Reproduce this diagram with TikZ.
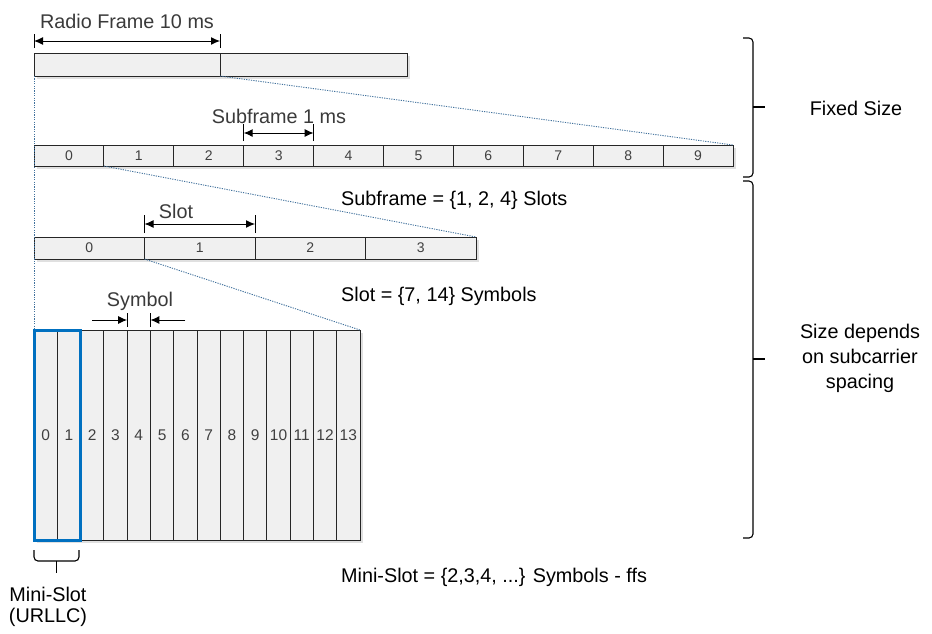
\documentclass[tikz,border=0pt]{standalone}
\usepackage{fontspec}
\setmainfont{Liberation Sans}
\usetikzlibrary{arrows.meta,calc}
\definecolor{cellfill}{HTML}{F0F0F0}
\definecolor{cellline}{HTML}{262626}
\definecolor{numgray}{HTML}{404040}
\definecolor{dimgray}{HTML}{3A3A3A}
\definecolor{dotblue}{HTML}{41719C}
\definecolor{miniblue}{HTML}{0070C0}
\begin{document}
\begin{tikzpicture}[x=1pt,y=-1pt,
  cell/.style={draw=cellline, fill=cellfill, line width=1pt, inner sep=0pt, outer sep=0pt,
    text=numgray, font=\fontsize{14}{16}\selectfont},
  symcell/.style={cell, font=\fontsize{15.5}{18}\selectfont},
  lbl/.style={font=\fontsize{19.8}{24}\selectfont, text=black, inner sep=0pt},
  dimlbl/.style={lbl, text=dimgray},
  dotl/.style={draw=dotblue, line width=0.9pt, dash pattern=on 1.2pt off 1.2pt},
  dimline/.style={line width=1pt, {Latex[length=9pt,width=8pt]}-{Latex[length=9pt,width=8pt]}},
  oneside/.style={line width=1pt, -{Latex[length=9pt,width=8pt]}},
  tickl/.style={line width=0.8pt},
  shad/.style={fill=black, opacity=0.12},
  brline/.style={line width=1.1pt, rounded corners=4pt}]
\useasboundingbox (0,0) rectangle (932,633);

% shadows
\fill[shad] (36.5,55.5) rectangle (409.5,78.5);
\fill[shad] (36.5,147.5) rectangle (735.5,168.5);
\fill[shad] (36.5,239.5) rectangle (478.5,261.5);
\fill[shad] (36.5,332.5) rectangle (362.5,542.5);

% radio frame
\node[cell, minimum width=186pt, minimum height=23pt] (rf0) at (127,64.5) {};
\node[cell, minimum width=187pt, minimum height=23pt] (rf1) at (313.5,64.5) {};

% subframes
\foreach \i in {0,...,9}
  \node[cell, minimum width=69.9pt, minimum height=21pt] (sf\i) at ({34+69.9*(\i+0.5)},155.5) {\i};

% slots
\foreach \i in {0,...,3}
  \node[cell, minimum width=110.5pt, minimum height=22pt] (sl\i) at ({34+110.5*(\i+0.5)},248) {\i};

% symbols
\foreach \i in {0,...,13}
  \node[symcell, minimum width=23.2857pt, minimum height=210pt] (sy\i) at ({34+23.2857*(\i+0.5)},435) {\i};

% mini-slot highlight
\draw[miniblue, line width=3pt] (sy0.north west) rectangle (sy1.south east);

% dotted zoom lines
\draw[dotl] (rf0.south west) -- (sy0.north west);
\draw[dotl] (rf0.south east) -- (sf9.north east);
\draw[dotl] (sf1.south west) -- (sl3.north east);
\draw[dotl] (sl1.south west) -- (sy13.north east);

% radio frame dimension
\draw[tickl] ($(rf0.north west)+(0,-5)$) -- ($(rf0.north west)+(0,-19)$);
\draw[tickl] ($(rf0.north east)+(0,-5)$) -- ($(rf0.north east)+(0,-19)$);
\draw[dimline] ($(rf0.north west)+(0,-12)$) -- ($(rf0.north east)+(0,-12)$);
\node[dimlbl] (rflbl) at (127,21) {Radio Frame 10 ms};

% subframe dimension
\draw[tickl] ($(sf3.north west)+(0,-4)$) -- ($(sf3.north west)+(0,-21)$);
\draw[tickl] ($(sf3.north east)+(0,-4)$) -- ($(sf3.north east)+(0,-21)$);
\draw[dimline] ($(sf3.north west)+(0,-12)$) -- ($(sf3.north east)+(0,-12)$);
\node[dimlbl] (sflbl) at (279,116) {Subframe 1 ms};

% slot dimension
\draw[tickl] ($(sl1.north west)+(0,-4)$) -- ($(sl1.north west)+(0,-22)$);
\draw[tickl] ($(sl1.north east)+(0,-4)$) -- ($(sl1.north east)+(0,-22)$);
\draw[dimline] ($(sl1.north west)+(0,-13)$) -- ($(sl1.north east)+(0,-13)$);
\node[dimlbl] (sllbl) at (176,211) {Slot};

% symbol dimension
\coordinate (syA) at ($(sy4.north west)+(0,-10)$);
\coordinate (syB) at ($(sy4.north east)+(0,-10)$);
\draw[tickl] ($(sy4.north west)+(0,-3)$) -- ($(sy4.north west)+(0,-17)$);
\draw[tickl] ($(sy4.north east)+(0,-3)$) -- ($(sy4.north east)+(0,-17)$);
\draw[oneside] ($(syA)+(-35,0)$) -- (syA);
\draw[oneside] ($(syB)+(35,0)$) -- (syB);
\node[dimlbl] (sylbl) at (140,301) {Symbol};

% descriptions
\node[lbl, anchor=west] (d1) at (341,200) {Subframe = \{1, 2, 4\} Slots};
\node[lbl, anchor=west] (d2) at (341,296) {Slot = \{7, 14\} Symbols};
\node[lbl, anchor=west] (d3) at (341,577) {Mini-Slot = \{2,3,4, ...\} Symbols - ffs};

% mini-slot brace
\draw[brline] (34,550) -- (34,561) -- (79,561) -- (79,550);
\draw[line width=1.1pt] (56.5,561) -- (56.5,573);
\node[lbl, align=center, font=\fontsize{19.8}{21.5}\selectfont] (ms) at (48,607) {Mini-Slot\\(URLLC)};

% right braces
\draw[brline] (743,38) -- (753,38) -- (753,107) -- (753,177) -- (743,177);
\draw[line width=1.1pt] (753,107) -- (765,107);
\draw[brline] (743,181) -- (753,181) -- (753,538) -- (743,538);
\draw[line width=1.1pt] (753,359) -- (765,359);
\node[lbl] (fixed) at (856,108) {Fixed Size};
\node[lbl, align=center, font=\fontsize{19.8}{25}\selectfont] (dep) at (860,358) {Size depends\\on subcarrier\\spacing};
\end{tikzpicture}
\end{document}
